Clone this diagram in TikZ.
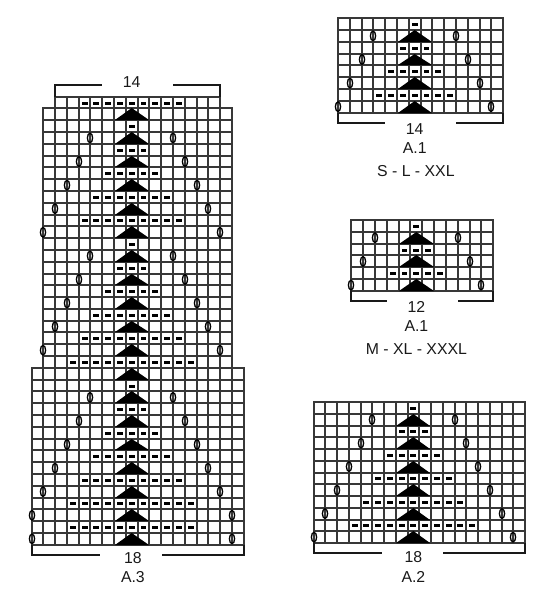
\documentclass[tikz,border=0pt]{standalone}
\usepackage{fontspec}
\setmainfont{Liberation Sans}
% pixel-snapped chart coordinates (1 unit = 1 px)
\newcommand{\PX}[1]{(round(\ChX+\ChS*(#1)))}
\newcommand{\PY}[1]{(round(\ChY+\ChS*(#1)))}
\newcommand{\RX}[1]{(\ChX+\ChS*(#1))}
\newcommand{\RY}[1]{(\ChY+\ChS*(#1))}
\newcommand{\HL}[3]{\draw[gridline] ({\PX{#1}},{\PY{#3}}) -- ({\PX{#2}},{\PY{#3}});}
\newcommand{\VL}[3]{\draw[gridline] ({\PX{#3}},{\PY{#1}}) -- ({\PX{#3}},{\PY{#2}});}
\newcommand{\KTri}[2]{\fill ({\PX{#2-0.95}},{\PY{#1+1}}) -- ({\RX{#2+0.5}},{\PY{#1}}) -- ({\PX{#2+1.95}},{\PY{#1+1}}) -- cycle;}
\newcommand{\KDash}[3]{\foreach \i in {1,...,#3}{\fill ({round(\RX{#2-(#3+1)/2+\i+0.25})},{round(\RY{#1+0.5})-1}) rectangle ({round(\RX{#2-(#3+1)/2+\i+0.75})},{round(\RY{#1+0.5})+2});}}
\newcommand{\KYo}[2]{\draw[yo] ({\PX{#2}},{\RY{#1+0.5}}) ellipse [x radius=2.6, y radius=4.8];}
\newcommand{\Bracket}[4]{% left col, right col, chart edge row line, bracket row
  \draw[brk] ({\PX{#1}},{\PY{#3}}) -- ({\PX{#1}},{\PY{#4}}) -- ({\PX{\GapL}},{\PY{#4}});
  \draw[brk] ({\PX{\GapR}},{\PY{#4}}) -- ({\PX{#2}},{\PY{#4}}) -- ({\PX{#2}},{\PY{#3}});}
\tikzset{
  gridline/.style={line width=2.6pt, black!78, line cap=rect},
  brk/.style={line width=2.85pt, black!90},
  yo/.style={line width=1.9pt, black},
  lbl/.style={font=\fontsize{22.5}{26}\selectfont, inner sep=0pt, text=black!90}
}
\begin{document}
\begin{tikzpicture}[x=0.05cm, y=-0.05cm]
\useasboundingbox (0,0) rectangle (546,600);

% ---------------- A.3 ----------------
\def\ChX{31.5}\def\ChY{96.7}\def\ChS{11.79}
\foreach \j in {2,...,16} {\VL{0}{38}{\j}}
\VL{1}{38}{1}
\VL{1}{38}{17}
\VL{23}{38}{0}
\VL{23}{38}{18}
\HL{2}{16}{0}
\foreach \k in {1,...,22} {\HL{1}{17}{\k}}
\foreach \k in {23,...,38} {\HL{0}{18}{\k}}
\foreach \t in {1,3,...,37} {\KTri{\t}{8}}
\foreach \t/\n in {0/9,2/1,4/3,6/5,8/7,10/9,12/1,14/3,16/5,18/7,20/9,22/11,24/1,26/3,28/5,30/7,32/9,34/11,36/11} {\KDash{\t}{8}{\n}}
\foreach \t/\a/\b in {3/5/12,5/4/13,7/3/14,9/2/15,11/1/16,13/5/12,15/4/13,17/3/14,19/2/15,21/1/16,25/5/12,27/4/13,29/3/14,31/2/15,33/1/16,35/0/17,37/0/17} {\KYo{\t}{\a}\KYo{\t}{\b}}
\def\GapL{5.95}\def\GapR{12.03}
\Bracket{2}{16}{0}{-1}
\node[lbl] (a3top) at ({\RX{8.5}},{\RY{-1.27}}) {14};
\def\GapL{5.81}\def\GapR{11.04}
\Bracket{0}{18}{38}{38.83}
\node[lbl] (a3bot) at ({\RX{8.6}},{\RY{39.13}}) {18};
\node[lbl] (a3name) at ({\RX{8.6}},{\RY{40.74}}) {A.3};

% ---------------- A.2 ----------------
\def\ChX{313.5}\def\ChY{402}\def\ChS{11.75}
\foreach \j in {0,...,18} {\VL{0}{12}{\j}}
\foreach \k in {0,...,12} {\HL{0}{18}{\k}}
\foreach \t in {1,3,...,11} {\KTri{\t}{8}}
\foreach \t/\n in {0/1,2/3,4/5,6/7,8/9,10/11} {\KDash{\t}{8}{\n}}
\foreach \t/\a/\b in {1/5/12,3/4/13,5/3/14,7/2/15,9/1/16,11/0/17} {\KYo{\t}{\a}\KYo{\t}{\b}}
\def\GapL{5.8}\def\GapR{11.05}
\Bracket{0}{18}{12}{12.89}
\node[lbl] (a2bot) at ({\RX{8.5}},{\RY{13.23}}) {18};
\node[lbl] (a2name) at ({\RX{8.5}},{\RY{14.89}}) {A.2};

% ---------------- A.1 (S - L - XXL) ----------------
\def\ChX{338}\def\ChY{18.2}\def\ChS{11.8}
\foreach \j in {0,...,14} {\VL{0}{8}{\j}}
\foreach \k in {0,...,8} {\HL{0}{14}{\k}}
\foreach \t in {1,3,5,7} {\KTri{\t}{6}}
\foreach \t/\n in {0/1,2/3,4/5,6/7} {\KDash{\t}{6}{\n}}
\foreach \t/\a/\b in {1/3/10,3/2/11,5/1/12,7/0/13} {\KYo{\t}{\a}\KYo{\t}{\b}}
\def\GapL{3.98}\def\GapR{10}
\Bracket{0}{14}{8}{8.88}
\node[lbl] (a1sbot) at ({\RX{6.5}},{\RY{9.39}}) {14};
\node[lbl] (a1sname) at ({\RX{6.5}},{\RY{11.0}}) {A.1};
\node[lbl] (a1ssize) at ({\RX{6.6}},{\RY{12.95}}) {S - L - XXL};

% ---------------- A.1 (M - XL - XXXL) ----------------
\def\ChX{351.3}\def\ChY{220}\def\ChS{11.83}
\foreach \j in {0,...,12} {\VL{0}{6}{\j}}
\foreach \k in {0,...,6} {\HL{0}{12}{\k}}
\foreach \t in {1,3,5} {\KTri{\t}{5}}
\foreach \t/\n in {0/1,2/3,4/5} {\KDash{\t}{5}{\n}}
\foreach \t/\a/\b in {1/2/9,3/1/10,5/0/11} {\KYo{\t}{\a}\KYo{\t}{\b}}
\def\GapL{2.98}\def\GapR{9}
\Bracket{0}{12}{6}{6.88}
\node[lbl] (a1mbot) at ({\RX{5.5}},{\RY{7.39}}) {12};
\node[lbl] (a1mname) at ({\RX{5.5}},{\RY{9.0}}) {A.1};
\node[lbl] (a1msize) at ({\RX{5.5}},{\RY{10.95}}) {M - XL - XXXL};
\end{tikzpicture}
\end{document}
